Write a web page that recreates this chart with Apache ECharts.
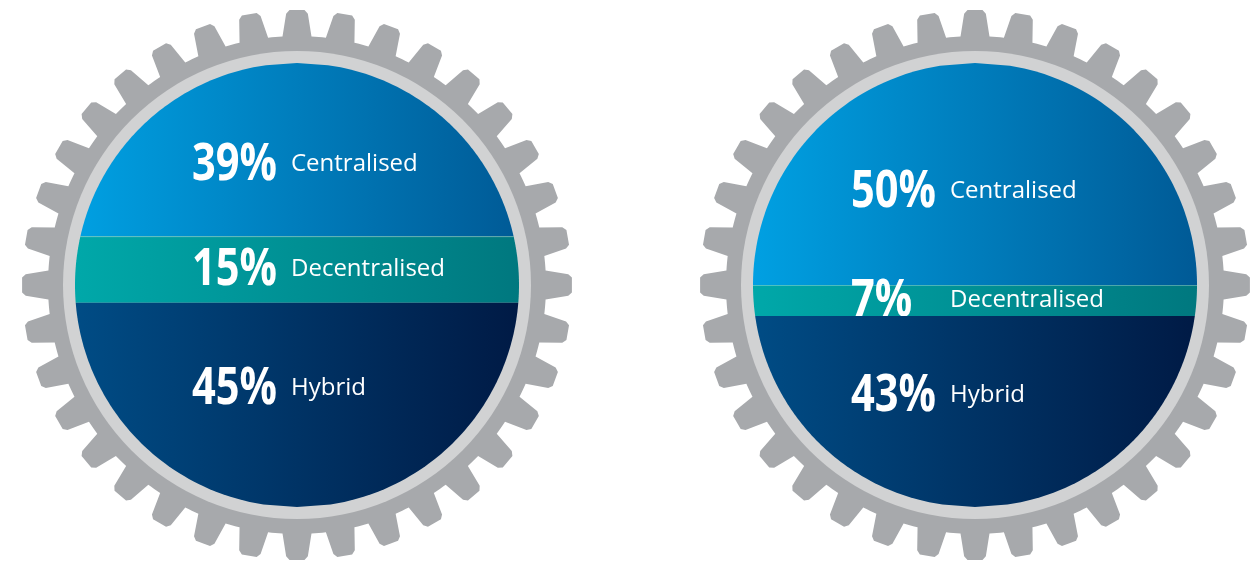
<!DOCTYPE html>
<html>
<head>
<meta charset="utf-8">
<script src="https://cdn.jsdelivr.net/npm/echarts@6/dist/echarts.min.js"></script>
<style>
  html, body { margin: 0; padding: 0; background: #fff; }
  #chart { width: 1260px; height: 561px; }
</style>
</head>
<body>
<div id="chart"></div>
<script>
// 数据
var categories = ['Centralised', 'Decentralised', 'Hybrid'];
var leftValues = [39, 15, 45];
var rightValues = [50, 7, 43];

// 每个齿轮的文字位置（相对圆心的偏移）
var gears = [
  { values: leftValues, numDx: -105, labelDx: -6 },
  { values: rightValues, numDx: -124, labelDx: -25 }
];

var bandColors = [
  ['#00a0e2', '#005a96'],
  ['#00a8a9', '#00787f'],
  ['#004c85', '#001a45']
];

function bandData (values) {
  var out = [];
  var start = 0;
  for (var i = 0; i < values.length; i++) {
    var end = i === values.length - 1 ? 100 : start + values[i];
    out.push([i, start, end, values[i]]);
    start = end;
  }
  return out;
}

function renderGear (params, api) {
  var c = api.coord([0, 50]);
  var R = api.size([2, 100])[0] / 2;
  var ringR = R * 234 / 222;
  var rootR = R * 249 / 222;
  var tipR = R * 275 / 222;
  var teeth = 36;
  var pts = [];
  var aRoot = 14.5 / rootR;
  var aTip = 11 / tipR;
  var chamfer = 3.5 / tipR;
  function p (r, a) {
    return [c[0] + r * Math.sin(a), c[1] - r * Math.cos(a)];
  }
  for (var k = 0; k < teeth; k++) {
    var th = k * 2 * Math.PI / teeth;
    var next = (k + 1) * 2 * Math.PI / teeth;
    pts.push(p(rootR, th - aRoot));
    pts.push(p(tipR - 3.5, th - aTip));
    pts.push(p(tipR, th - aTip + chamfer));
    pts.push(p(tipR, th + aTip - chamfer));
    pts.push(p(tipR - 3.5, th + aTip));
    pts.push(p(rootR, th + aRoot));
    // 齿间圆弧
    for (var s = 1; s < 4; s++) {
      pts.push(p(rootR, th + aRoot + (next - aRoot - th - aRoot) * s / 4));
    }
  }
  return {
    type: 'group',
    children: [
      { type: 'polygon', shape: { points: pts }, style: { fill: '#a7a9ac' } },
      { type: 'circle', shape: { cx: c[0], cy: c[1], r: ringR }, style: { fill: '#d1d2d3' } }
    ]
  };
}

function makeBandRenderer (gear) {
  return function (params, api) {
    var i = api.value(0);
    var v0 = api.value(1);
    var v1 = api.value(2);
    var c = api.coord([0, 50]);
    var R = api.size([2, 100])[0] / 2;
    var y0 = api.coord([0, v0])[1];
    var y1 = api.coord([0, v1])[1];
    var n = 80;
    var right = [], left = [];
    var sumW = 0, sumWY = 0;
    for (var s = 0; s <= n; s++) {
      var y = y0 + (y1 - y0) * s / n;
      var dy = y - c[1];
      var dx = Math.sqrt(Math.max(0, R * R - dy * dy));
      right.push([c[0] + dx, y]);
      left.unshift([c[0] - dx, y]);
      sumW += dx;
      sumWY += dx * y;
    }
    // 文字放在色带面积的重心
    var labelY = sumWY / sumW + 1;
    var children = [{
      type: 'polygon',
      shape: { points: right.concat(left) },
      style: {
        fill: {
          type: 'linear', global: true,
          x: c[0] - R, y: 0, x2: c[0] + R, y2: 0,
          colorStops: [
            { offset: 0, color: bandColors[i][0] },
            { offset: 1, color: bandColors[i][1] }
          ]
        }
      }
    }];
    if (i === 1) {
      children.push({
        type: 'line',
        shape: { x1: left[left.length - 1][0], y1: y0 + 0.5, x2: right[0][0], y2: y0 + 0.5 },
        style: { stroke: 'rgba(255,255,255,0.3)', lineWidth: 1 }
      });
    }
    children.push({
      type: 'text',
      x: c[0] + gear.numDx,
      y: labelY,
      scaleX: 0.8,
      style: {
        text: api.value(3) + '%',
        fill: '#fff',
        fontFamily: 'Open Sans',
        fontWeight: 'bold',
        fontSize: 52,
        align: 'left',
        verticalAlign: 'middle'
      }
    });
    children.push({
      type: 'text',
      x: c[0] + gear.labelDx,
      y: labelY - 1,
      style: {
        text: categories[i],
        fill: '#fff',
        fontFamily: 'Open Sans',
        fontSize: 24,
        align: 'left',
        verticalAlign: 'middle'
      }
    });
    return { type: 'group', children: children };
  };
}

var myChart = echarts.init(document.getElementById('chart'));
var grids = [
  { left: 75, top: 63, width: 444, height: 444 },
  { left: 753, top: 63, width: 444, height: 444 }
];
var xAxes = [], yAxes = [], series = [];
gears.forEach(function (g, idx) {
  xAxes.push({ type: 'value', gridIndex: idx, min: -1, max: 1, show: false });
  yAxes.push({ type: 'value', gridIndex: idx, min: 0, max: 100, inverse: true, show: false });
  series.push({
    type: 'custom',
    xAxisIndex: idx,
    yAxisIndex: idx,
    silent: true,
    renderItem: renderGear,
    data: [[0, 50]]
  });
  series.push({
    type: 'custom',
    xAxisIndex: idx,
    yAxisIndex: idx,
    silent: true,
    renderItem: makeBandRenderer(g),
    encode: { x: -1, y: [1, 2] },
    data: bandData(g.values)
  });
});

var option = {
  animation: false,
  backgroundColor: '#fff',
  grid: grids,
  xAxis: xAxes,
  yAxis: yAxes,
  series: series
};
myChart.setOption(option);
window.addEventListener('resize', function () {
  myChart.resize();
});
</script>
</body>
</html>
